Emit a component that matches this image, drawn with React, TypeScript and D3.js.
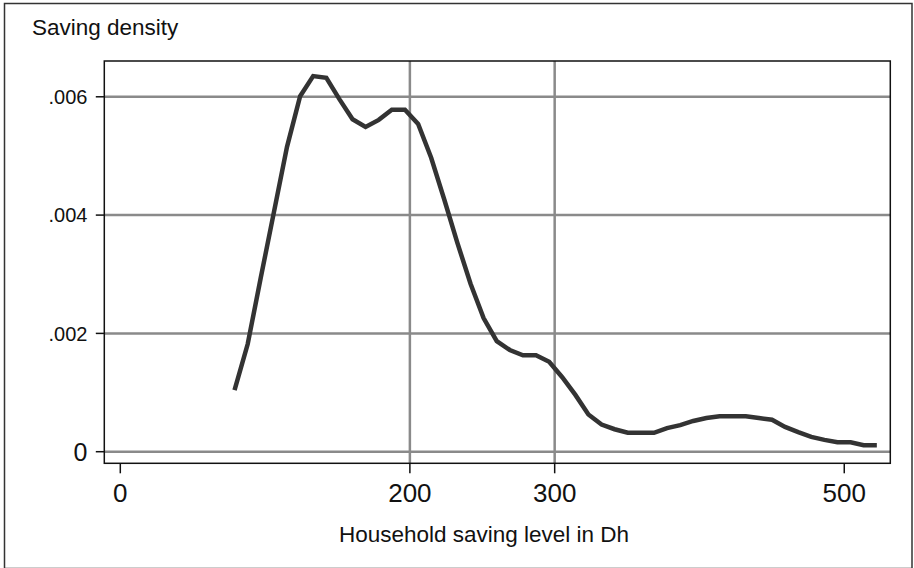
import React from "react";
import * as d3 from "d3";

// kernel density evaluation points (Dh) and density values
const savingLevels = [
  78.9, 88.0, 97.0, 106.1, 115.1, 124.2, 133.2, 142.3, 151.3, 160.4,
  169.4, 178.5, 187.5, 196.6, 205.7, 214.7, 223.8, 232.8, 241.9, 250.9,
  260.0, 269.0, 278.1, 287.1, 296.2, 305.2, 314.3, 323.3, 332.4, 341.4,
  350.5, 359.5, 368.6, 377.6, 386.7, 395.7, 404.8, 413.9, 422.9, 432.0,
  441.0, 450.1, 459.1, 468.2, 477.2, 486.3, 495.3, 504.4, 513.4, 522.5,
];
const densities = [
  0.00104, 0.00182, 0.00294, 0.00405, 0.00515, 0.00601, 0.00635, 0.00632, 0.00596, 0.00562,
  0.00549, 0.00561, 0.00578, 0.00578, 0.00554, 0.00497, 0.00426, 0.00353, 0.00284, 0.00226,
  0.00187, 0.00172, 0.00163, 0.00163, 0.00152, 0.00126, 0.00096, 0.00063, 0.00046, 0.00038,
  0.00032, 0.00032, 0.00032, 0.0004, 0.00045, 0.00052, 0.00057, 0.0006, 0.0006, 0.0006,
  0.00057, 0.00054, 0.00042, 0.00033, 0.00025, 0.0002, 0.00016, 0.00016, 0.00011, 0.00011,
];
const xTicks = [0, 200, 300, 500];
const xGrid = [200, 300];
const yTicks = [0, 0.002, 0.004, 0.006];
const yTickLabels = ["0", ".002", ".004", ".006"];

const FONT = "'Liberation Sans', Arial, Helvetica, sans-serif";

export default function App() {
  const W = 914;
  const H = 568;
  const left = 104.3;
  const right = 890.3;
  const top = 61;
  const bottom = 463.3;

  const x = d3.scaleLinear().domain([-11.05, 531.8]).range([left, right]);
  const y = d3.scaleLinear().domain([-0.000196, 0.006605]).range([bottom, top]);

  const points: [number, number][] = savingLevels.map((v, i) => [v, densities[i]]);
  const line = d3
    .line<[number, number]>()
    .x((d) => x(d[0]))
    .y((d) => y(d[1]));

  return (
    <svg
      width={W}
      height={H}
      style={{ position: "absolute", left: 0, top: 0, background: "#fff" }}
      fontFamily={FONT}
    >
      <rect x={0} y={0} width={W} height={H} fill="#fff" />
      {/* outer frame */}
      <rect x={4.5} y={3.5} width={907.5} height={565} fill="none" stroke="#333" strokeWidth={1.5} />

      {/* grid */}
      {yTicks.map((t) => (
        <line key={"gy" + t} x1={left} x2={right} y1={y(t)} y2={y(t)} stroke="#8a8a8a" strokeWidth={2.5} />
      ))}
      {xGrid.map((t) => (
        <line key={"gx" + t} x1={x(t)} x2={x(t)} y1={top} y2={bottom} stroke="#8a8a8a" strokeWidth={2.5} />
      ))}

      {/* density curve */}
      <path d={line(points) ?? ""} fill="none" stroke="#333" strokeWidth={4.5} strokeLinejoin="miter" />

      {/* plot box */}
      <rect x={left} y={top} width={right - left} height={bottom - top} fill="none" stroke="#111" strokeWidth={1.5} />

      {/* y axis */}
      {yTicks.map((t, i) => {
        const fs = t === 0 ? 25 : 20;
        return (
          <g key={"yt" + t}>
            <line x1={left - 8.5} x2={left} y1={y(t)} y2={y(t)} stroke="#111" strokeWidth={1.5} />
            <text x={87.5} y={y(t) + fs * 0.36} textAnchor="end" fontSize={fs} fill="#111">
              {yTickLabels[i]}
            </text>
          </g>
        );
      })}

      {/* x axis */}
      {xTicks.map((t) => (
        <g key={"xt" + t}>
          <line x1={x(t)} x2={x(t)} y1={bottom} y2={bottom + 10} stroke="#111" strokeWidth={1.5} />
          <text x={x(t)} y={502} textAnchor="middle" fontSize={26} fill="#111">
            {t}
          </text>
        </g>
      ))}

      <text x={32} y={35} fontSize={22.5} fill="#111">
        Saving density
      </text>
      <text x={484} y={542} textAnchor="middle" fontSize={22.5} fill="#111">
        Household saving level in Dh
      </text>
    </svg>
  );
}
